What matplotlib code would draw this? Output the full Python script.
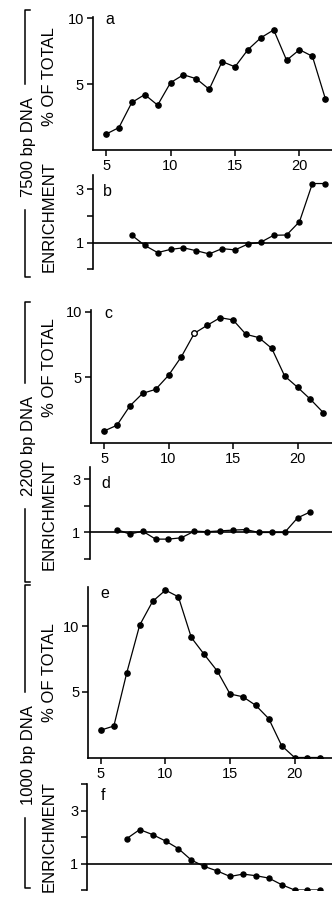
import matplotlib.pyplot as plt
from matplotlib.lines import Line2D

W, H = 332, 897

lanes = list(range(5, 23))
pct_7500 = [1.2, 1.7, 3.6, 4.2, 3.4, 5.1, 5.7, 5.4, 4.6, 6.7, 6.3, 7.6, 8.5, 9.1, 6.8, 7.6, 7.1, 3.9]
enr_7500_lanes = list(range(7, 23))
enr_7500 = [1.28, 0.9, 0.63, 0.75, 0.81, 0.7, 0.58, 0.78, 0.73, 0.95, 1.02, 1.28, 1.29, 1.79, 3.22, 3.22]

pct_2200 = [0.89, 1.33, 2.8, 3.77, 4.07, 5.14, 6.57, 8.35, 8.96, 9.54, 9.37, 8.27, 8.02, 7.2, 5.09, 4.23, 3.31, 2.29]
open_lane_2200 = 12
enr_2200_lanes = list(range(6, 22))
enr_2200 = [1.11, 0.94, 1.05, 0.75, 0.75, 0.8, 1.05, 1.03, 1.06, 1.09, 1.11, 1.0, 1.0, 1.0, 1.55, 1.78]

pct_1000 = [2.09, 2.4, 6.46, 10.09, 11.9, 12.76, 12.25, 9.15, 7.86, 6.61, 4.84, 4.63, 3.97, 2.96, 0.9, 0.0, 0.0, 0.0]
enr_1000_lanes = list(range(7, 23))
enr_1000 = [1.94, 2.28, 2.09, 1.85, 1.56, 1.13, 0.89, 0.72, 0.51, 0.6, 0.54, 0.45, 0.2, 0.0, 0.0, 0.0]

sizes = ["7500 bp DNA", "2200 bp DNA", "1000 bp DNA"]
letters = ["a", "b", "c", "d", "e", "f"]
x_ticks = [5, 10, 15, 20]

plt.rcParams['font.family'] = ['Liberation Sans', 'DejaVu Sans']

fig = plt.figure(figsize=(W / 100, H / 100), dpi=100)


def px_axes(left, top, bottom, right=W):
    return fig.add_axes([left / W, 1 - bottom / H, (right - left) / W, (bottom - top) / H])


def fx(x):
    return x / W


def fy(y):
    return 1 - y / H


def style(ax, xaxis):
    ax.spines['top'].set_visible(False)
    ax.spines['right'].set_visible(False)
    for s in ax.spines.values():
        s.set_linewidth(1.2)
    ax.tick_params(direction='out', length=4.5, width=1.1, labelsize=10.5, pad=2)
    if xaxis:
        ax.set_xticks(x_ticks)
        ax.set_xticklabels([str(t) for t in x_ticks])
    else:
        ax.spines['bottom'].set_visible(False)
        ax.set_xticks([])


def pct_panel(ax, x, y, ylim, yticks):
    ax.plot(x, y, '-o', color='k', lw=0.9, ms=3.8)
    ax.set_ylim(*ylim)
    ax.set_yticks(yticks)
    style(ax, True)


def enr_panel(ax, x, y, ylim, yticks):
    ax.axhline(1, color='k', lw=1.2)
    ax.plot(x, y, '-o', color='k', lw=0.9, ms=3.6)
    ax.set_ylim(*ylim)
    ax.set_yticks(yticks)
    ax.set_yticklabels(['' if t in (0, 2, 4) else str(t) for t in yticks])
    style(ax, False)


# panel a / b
ax_a = px_axes(93, 16.7, 150)
pct_panel(ax_a, lanes, pct_7500, (0, 10.1), [5, 10])
ax_a.set_xlim(3.99, 22.52)
ax_b = px_axes(93, 175, 269.4)
enr_panel(ax_b, enr_7500_lanes, enr_7500, (0, 3.54), [0, 1, 2, 3])
ax_b.set_xlim(3.99, 22.52)

# panel c / d
ax_c = px_axes(91, 309.7, 442.7)
pct_panel(ax_c, lanes, pct_2200, (0, 10.15), [5, 10])
i_open = lanes.index(open_lane_2200)
ax_c.plot([lanes[i_open]], [pct_2200[i_open]], 'o', ms=3.8, mfc='white', mec='k', mew=0.8, zorder=4)
ax_c.set_xlim(3.99, 22.67)
ax_c.set_xlabel("LANE NO.", fontsize=12, labelpad=3)
ax_d = px_axes(89.5, 467, 559)
enr_panel(ax_d, enr_2200_lanes, enr_2200, (0, 3.47), [0, 1, 2, 3])
ax_d.set_xlim(3.88, 22.67)

# panel e / f
ax_e = px_axes(88.3, 587, 757.5)
pct_panel(ax_e, lanes, pct_1000, (0, 13.0), [5, 10])
ax_e.set_xlim(4.02, 22.9)
ax_f = px_axes(87.3, 784, 890)
enr_panel(ax_f, enr_1000_lanes, enr_1000, (0, 4.0), [0, 1, 2, 3, 4])
ax_f.set_xlim(3.94, 22.9)

# panel letters
letter_pos = [(110, 19), (107, 192), (108, 313), (106, 483), (105, 594), (103, 795)]
for ch, (x, y) in zip(letters, letter_pos):
    fig.text(fx(x), fy(y), ch, fontsize=11.5, ha='center', va='center')

# axis titles on the left
pct_centers = [77, 368, 673]
enr_centers = [217, 515, 837]
for yc in pct_centers:
    fig.text(fx(49), fy(yc), "% OF TOTAL", rotation=90, fontsize=12, ha='center', va='center')
for yc in enr_centers:
    fig.text(fx(49), fy(yc), "ENRICHMENT", rotation=90, fontsize=12, ha='center', va='center')

# DNA size brackets
brackets = [(10, 147, 277), (302, 446, 582), (585, 755, 888)]
for (top, mid, bot), label in zip(brackets, sizes):
    fig.text(fx(29), fy(mid), label, rotation=90, fontsize=12, ha='center', va='center')
    half = 63
    xs = fx(25)
    fig.add_artist(Line2D([fx(30), xs, xs], [fy(top), fy(top), fy(mid - half)], color='k', lw=1.1))
    fig.add_artist(Line2D([xs, xs, fx(30)], [fy(mid + half), fy(bot), fy(bot)], color='k', lw=1.1))

fig.savefig("out.png", dpi=100)
